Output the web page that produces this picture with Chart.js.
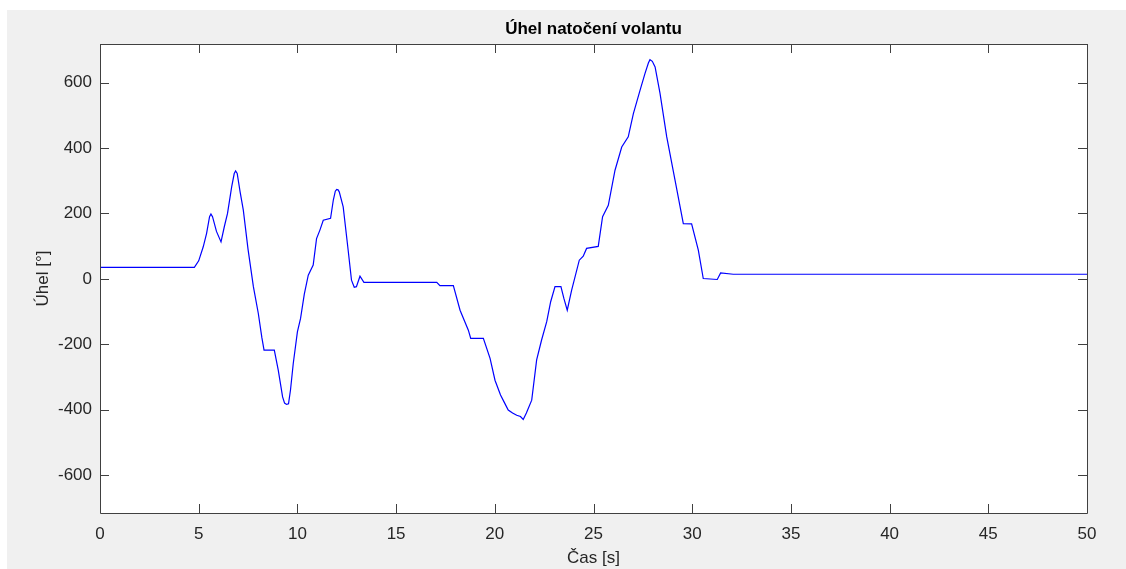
<!DOCTYPE html>
<html>
<head>
<meta charset="utf-8">
<script src="https://cdn.jsdelivr.net/npm/chart.js@4/dist/chart.umd.min.js"></script>
<style>
  body { margin: 0; background: #fff; }
  #wrap { position: absolute; left: 7px; top: 10px; width: 1119px; height: 559px; }
</style>
</head>
<body>
<div id="wrap"><canvas id="myChart" width="1119" height="559"></canvas></div>
<script>
// čas [s] a úhel natočení volantu [°]
var time = [0, 4.78, 5.0, 5.23, 5.40, 5.55, 5.62, 5.70, 5.90, 6.13, 6.30, 6.46, 6.67, 6.80, 6.87, 6.95, 7.10, 7.26, 7.50, 7.77,
    8.02, 8.20, 8.31, 8.83, 9.03, 9.25, 9.35, 9.45, 9.55, 9.65, 9.79, 10.0, 10.16, 10.35, 10.55, 10.80, 10.97, 11.14, 11.31, 11.68, 11.82, 11.92, 11.99,
    12.06, 12.12, 12.32, 12.57, 12.74, 12.88, 12.99, 13.17, 13.37, 17.06, 17.22, 17.90, 18.24, 18.66, 18.78, 19.42, 19.76, 20.01, 20.29, 20.50, 20.68, 20.90, 21.11,
    21.30, 21.44, 21.60, 21.87, 22.12, 22.37, 22.63, 22.83, 23.05, 23.35, 23.50, 23.67, 23.89, 24.28, 24.48, 24.65, 25.24, 25.46, 25.75, 26.09, 26.43, 26.76,
    27.02, 27.36, 27.61, 27.78, 27.86, 27.98, 28.12, 28.37, 28.71, 29.13, 29.55, 29.97, 30.31, 30.56, 31.27, 31.44, 32.08, 50];
var angle = [35, 35, 55, 98, 139, 190, 198, 190, 145, 113, 160, 200, 281, 322, 330, 322, 265, 210, 90, -24,
    -106, -180, -218, -218, -279, -361, -380, -384, -382, -340, -259, -162, -121, -47, 11, 42, 123, 149, 179, 185, 241, 268, 273,
    272, 266, 220, 88, -4, -26, -24, 8, -11, -11, -21, -21, -96, -157, -182, -182, -243, -310, -355, -380, -401, -410, -417,
    -421, -430, -410, -371, -248, -187, -131, -70, -24, -24, -60, -96, -35, 57, 69, 93, 99, 190, 225, 332, 403, 434,
    505, 577, 628, 660, 670, 665, 648, 567, 434, 302, 169, 168, 88, 1, -2, 18, 14, 14];

var xTicks = [0, 5, 10, 15, 20, 25, 30, 35, 40, 45, 50];
var yTicks = [-600, -400, -200, 0, 200, 400, 600];

var points = time.map(function (t, i) { return { x: t, y: angle[i] }; });

var font = { family: "'Liberation Sans', Arial, sans-serif", size: 17 };
var textColor = '#262626';

// pozadí jako v MATLABu + rámeček a ticky dovnitř
var matlabFrame = {
    id: 'matlabFrame',
    beforeDraw: function (chart) {
        var c = chart.ctx, a = chart.chartArea;
        c.save();
        c.fillStyle = '#f0f0f0';
        c.fillRect(0, 0, chart.width, chart.height);
        c.fillStyle = '#ffffff';
        c.fillRect(a.left, a.top, a.right - a.left, a.bottom - a.top);
        c.restore();
    },
    afterDraw: function (chart) {
        var c = chart.ctx, a = chart.chartArea;
        var xs = chart.scales.x, ys = chart.scales.y;
        c.save();
        c.strokeStyle = '#404040';
        c.lineWidth = 1;
        c.beginPath();
        c.rect(Math.round(a.left) + 0.5, Math.round(a.top) + 0.5, Math.round(a.right - a.left), Math.round(a.bottom - a.top));
        xTicks.forEach(function (v) {
            var px = Math.round(xs.getPixelForValue(v)) + 0.5;
            c.moveTo(px, a.bottom); c.lineTo(px, a.bottom - 9);
            c.moveTo(px, a.top); c.lineTo(px, a.top + 9);
        });
        yTicks.forEach(function (v) {
            var py = Math.round(ys.getPixelForValue(v)) + 0.5;
            c.moveTo(a.left, py); c.lineTo(a.left + 9, py);
            c.moveTo(a.right, py); c.lineTo(a.right - 9, py);
        });
        c.stroke();
        c.restore();
    }
};

var ctx = document.getElementById('myChart').getContext('2d');
var myChart = new Chart(ctx, {
    type: 'line',
    data: {
        datasets: [{
            label: 'Úhel',
            data: points,
            borderColor: '#0000ff',
            borderWidth: 1.2,
            pointRadius: 0,
            tension: 0,
            fill: false
        }]
    },
    options: {
        responsive: false,
        animation: false,
        layout: { padding: { left: 0, top: 0, right: 39, bottom: 0 } },
        plugins: {
            legend: { display: false },
            tooltip: { enabled: false },
            title: {
                display: true,
                text: 'Úhel natočení volantu',
                color: '#000',
                fullSize: false,
                font: { family: font.family, size: 17, weight: 'bold' },
                padding: { top: 9, bottom: 4.6 }
            }
        },
        scales: {
            x: {
                type: 'linear',
                min: 0,
                max: 50,
                afterBuildTicks: function (s) { s.ticks = xTicks.map(function (v) { return { value: v }; }); },
                afterFit: function (s) { s.height = 56; },
                grid: { display: false, drawTicks: false },
                border: { display: false },
                ticks: { color: textColor, font: font, padding: 11, maxRotation: 0 },
                title: { display: true, text: 'Čas [s]', color: textColor, font: font, padding: { top: 0, bottom: 0 } }
            },
            y: {
                type: 'linear',
                min: -716,
                max: 718,
                afterBuildTicks: function (s) { s.ticks = yTicks.map(function (v) { return { value: v }; }); },
                afterFit: function (s) { s.width = 93; },
                grid: { display: false, drawTicks: false },
                border: { display: false },
                ticks: { color: textColor, font: font, padding: 8 },
                title: { display: true, text: 'Úhel [°]', color: textColor, font: font, padding: { top: 25.8, bottom: 0 } }
            }
        }
    },
    plugins: [matlabFrame]
});
</script>
</body>
</html>
